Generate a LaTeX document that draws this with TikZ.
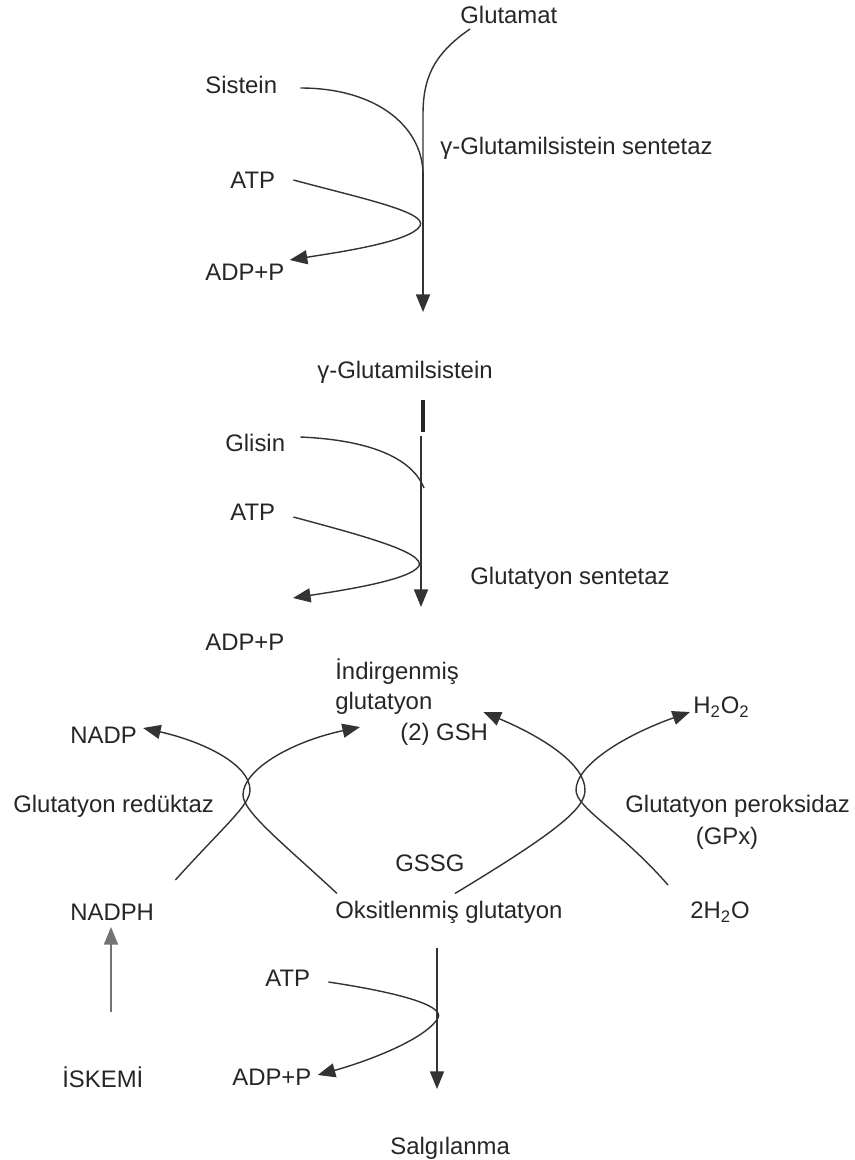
\documentclass[tikz,border=0pt]{standalone}
\usepackage{fontspec}
\setmainfont{Liberation Sans}
\usepackage{tikz}
\usetikzlibrary{arrows.meta, positioning}

\begin{document}
\begin{tikzpicture}[x=0.02cm, y=-0.02cm]
\tikzstyle{txt} = [inner sep=0pt, anchor=west, text=black!85, font=\fontsize{13.6}{16}\selectfont]
\tikzstyle{pathline} = [draw=black!80, line width=0.8pt]
\tikzstyle{arrow} = [pathline, -{Triangle[length=10pt, width=8pt]}]
\useasboundingbox (0,0) rectangle (855,1160);

% gamma-glutamilsistein
\node (glutamat) [txt] at (460,15) {Glutamat};
\node (sistein) [txt] at (205,85) {Sistein};
\node (gcsenz) [txt] at (440,148) {γ-Glutamilsistein sentetaz};
\node (atp1) [txt] at (230,180) {ATP};
\node (adp1) [txt] at (205,272) {ADP+P};
\node (gcys) [txt, anchor=center] at (405,372) {γ-Glutamilsistein};

\coordinate (j1) at (423,172);
\coordinate (e1) at (423,312);
\draw [pathline] ([shift={(10,14)}]glutamat.west) .. controls (432,55) and (423,80) .. (423,115) -- (j1);
\draw [pathline] ([shift={(23,3)}]sistein.east) .. controls (375,88) and (421,125) .. (j1);
\draw [arrow] (j1) -- (e1);
\draw [arrow] ([shift={(18,0)}]atp1.east) .. controls (360,198) and (428,212) .. (420,226) .. controls (410,242) and (340,252) .. ([shift={(5,-12)}]adp1.east);

% glutatyon
\node (glisin) [txt] at (225,443) {Glisin};
\node (atp2) [txt] at (230,512) {ATP};
\node (gsent) [txt] at (470,578) {Glutatyon sentetaz};
\node (adp2) [txt] at (205,642) {ADP+P};

\draw [draw=black!85, line width=2.2pt] (423,400) -- (423,432);
\coordinate (j2) at (421,436);
\coordinate (e2) at (421,607);
\draw [arrow] (j2) -- (e2);
\draw [pathline] ([shift={(15,-6)}]glisin.east) .. controls (370,440) and (412,458) .. (424,488);
\draw [arrow] ([shift={(18,5)}]atp2.east) .. controls (360,535) and (425,552) .. (419,566) .. controls (410,580) and (345,590) .. (293,598);

% cycle
\node (indirg) [txt] at (335,672) {İndirgenmiş};
\node (glut) [txt] at (335,703) {glutatyon};
\node (gsh) [txt] at (400,734) {(2) GSH};
\node (nadp) [txt] at (70,735) {NADP};
\node (h2o2) [txt] at (693,707) {H\textsubscript{2}O\textsubscript{2}};
\node (gred) [txt] at (13,806) {Glutatyon redüktaz};
\node (gpx) [txt] at (625,806) {Glutatyon peroksidaz};
\node (gpxab) [txt, anchor=center] at (727,838) {(GPx)};
\node (gssg) [txt] at (395,863) {GSSG};
\node (nadph) [txt] at (70,912) {NADPH};
\node (oksit) [txt] at (335,912) {Oksitlenmiş glutatyon};
\node (h2o) [txt] at (690,912) {2H\textsubscript{2}O};

\draw [arrow] ([shift={(21,-32)}]nadph.east) .. controls (225,825) and (250,805) .. (250,790) .. controls (250,765) and (205,742) .. ([shift={(6,-7)}]nadp.east);
\draw [arrow] ([shift={(2,-7)}]oksit.north west) .. controls (285,845) and (243,812) .. (243,795) .. controls (243,770) and (290,742) .. ([shift={(25,24)}]glut.west);
\draw [arrow] ([shift={(120,-7)}]oksit.north west) .. controls (560,830) and (585,808) .. (585,790) .. controls (585,765) and (545,738) .. ([shift={(-5,-22)}]gsh.east);
\draw [arrow] ([shift={(-22,-27)}]h2o.west) .. controls (620,830) and (576,808) .. (576,790) .. controls (576,765) and (625,735) .. ([shift={(-3,5)}]h2o2.west);

% salgilanma
\node (iskemi) [txt] at (62,1077) {İSKEMİ};
\node (atp3) [txt] at (265,978) {ATP};
\node (adp3) [txt] at (232,1077) {ADP+P};
\node (salg) [txt] at (390,1148) {Salgılanma};

\coordinate (isk) at (111,1012);
\coordinate (nadphin) at (111,927);
\draw [arrow, draw=black!55] (isk) -- (nadphin);
\coordinate (j3) at (437,948);
\coordinate (e3) at (437,1089);
\draw [arrow] (j3) -- (e3);
\draw [arrow] ([shift={(18,4)}]atp3.east) .. controls (395,992) and (445,1005) .. (438,1018) .. controls (425,1040) and (365,1062) .. ([shift={(6,-2)}]adp3.east);

\end{tikzpicture}
\end{document}
